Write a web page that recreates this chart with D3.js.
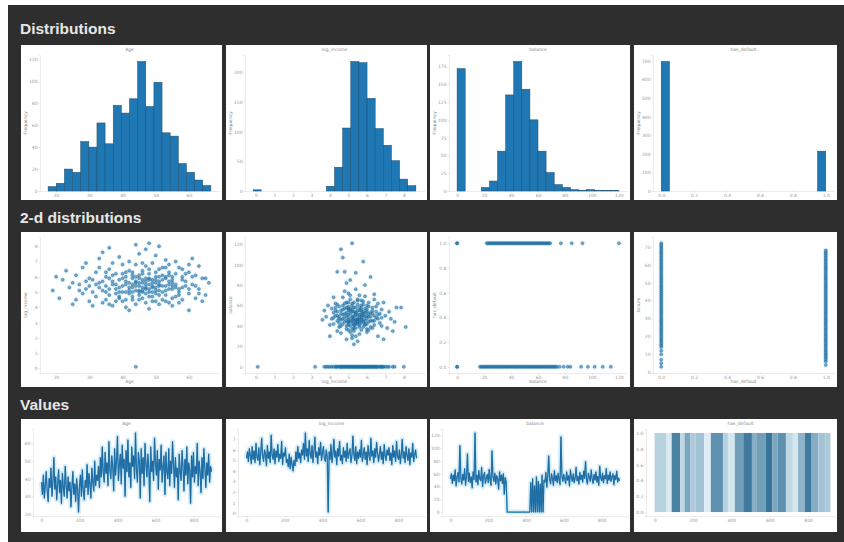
<!DOCTYPE html>
<html><head><meta charset="utf-8">
<script src="https://cdn.jsdelivr.net/npm/d3@7"></script>
<style>body{margin:0;background:#fff}svg{display:block}</style>
</head><body>
<svg id="c" width="844" height="542"></svg>
<script>
// ---------- DATA ----------
const sections = ["Distributions", "2-d distributions", "Values"];
const varNames = ["Age", "log_income", "balance", "has_default"];

// histograms: bin start, bin width, counts (20 bins)
const hist1Start = 17.6, hist1Width = 2.45;
const hist1Counts = [4,7,20,17,45,40,62,43,78,71,84,118,77,99,53,50,25,17,10,5];
const hist2Start = -0.15, hist2Width = 0.44;
const hist2Counts = [2,0,0,0,0,0,0,0,0,8,40,106,218,216,156,105,77,51,20,9];
const hist3Start = 0, hist3Width = 6;
const hist3Counts = [172,0,0,5,14,56,135,182,143,100,56,26,9,5,2,1,2,1,1,1];
const hist4Start = 0, hist4Width = 0.05;
const hist4Counts = [696,0,0,0,0,0,0,0,0,0,0,0,0,0,0,0,0,0,0,214];

const hist1Ticks = [20,30,40,50,60], hist1YTicks = [0,20,40,60,80,100,120];
const hist2Ticks = [0,1,2,3,4,5,6,7,8], hist2YTicks = [0,50,100,150,200];
const hist3Ticks = [0,20,40,60,80,100,120], hist3YTicks = [0,25,50,75,100,125,150,175];
const hist4Ticks = [0,0.2,0.4,0.6,0.8,1.0], hist4YTicks = [0,100,200,300,400,500,600,700];

// scatter 1: Age vs log_income
const scatter1 = [[19,5.1],[21,4.6],[22,5.8],[24,5.3],[25,4.2],[26,6.1],[27,5.5],[28,4.9],[28,6.6],[29,5.2],
[30,4.4],[30,5.9],[31,5.0],[32,6.3],[32,4.7],[33,5.6],[33,7.2],[34,5.1],[34,4.3],[35,6.0],
[35,5.4],[36,4.8],[36,6.5],[37,5.7],[37,4.1],[38,5.2],[38,6.2],[39,4.6],[39,5.8],[40,5.0],
[40,6.8],[40,4.4],[41,5.5],[41,6.0],[42,4.9],[42,5.3],[42,7.0],[43,5.9],[43,4.5],[43,6.3],
[44,5.1],[44,5.7],[44,4.2],[45,6.1],[45,5.4],[45,4.8],[45,7.5],[46,5.6],[46,6.4],[46,4.6],
[47,5.2],[47,5.9],[47,4.3],[47,6.7],[48,5.0],[48,5.5],[48,6.2],[48,4.7],[49,5.8],[49,5.3],
[49,6.9],[49,4.4],[50,5.6],[50,6.0],[50,4.9],[51,5.1],[51,6.5],[51,5.7],[52,4.5],[52,6.1],
[52,5.4],[53,5.9],[53,4.8],[53,7.1],[54,5.2],[54,6.3],[54,4.3],[55,5.6],[55,6.0],[56,4.7],
[56,5.3],[57,6.6],[57,5.0],[58,5.8],[58,4.5],[59,6.2],[59,5.4],[60,4.9],[60,6.8],[61,5.5],
[62,4.6],[62,6.1],[63,5.2],[64,5.9],[65,4.8],[66,5.6],[23,6.4],[26,4.5],[29,6.9],[31,4.1],
[34,7.6],[36,5.9],[38,4.4],[39,7.3],[41,4.0],[43,5.0],[44,6.8],[46,5.0],[47,7.8],[48,3.9],
[50,7.4],[51,4.2],[53,6.6],[55,4.1],[56,7.0],[58,6.5],[60,3.8],[63,6.7],[37,6.9],[42,3.8],
[45,5.9],[49,5.0],[52,5.0],[54,5.7],[40,5.9],[35,4.5],[57,4.3],[61,7.2],[44,0.1],[46,5.8],
[50,5.3],[48,5.9],[47,5.5],[43,5.5],[53,5.4],[41,5.0],[39,5.3],[55,5.2],[45,5.1],[51,5.5],
[44,8.1],[48,8.2],[51,8.0],[36,7.9],[20,6.0],[64,4.4],
[38,5.5],[39,5.0],[40,5.4],[41,5.7],[42,5.1],[43,5.3],[44,5.6],[45,5.0],[46,5.3],[47,5.7],
[48,5.2],[49,5.6],[50,5.1],[51,5.4],[52,5.8],[53,5.1],[54,5.5],[55,5.8],[56,5.5],[57,5.2],
[36,5.2],[37,5.5],[35,5.0],[34,5.7],[33,5.3],[32,5.5],[31,5.8],[30,5.4],[29,5.7],[27,5.1],
[40,6.2],[42,6.4],[44,6.0],[46,6.2],[48,6.5],[50,6.3],[52,6.6],[54,6.1],[56,6.2],[58,6.0],
[39,4.7],[41,4.5],[43,4.7],[45,4.5],[47,4.9],[49,4.7],[51,4.8],[53,4.4],[55,4.6],[57,4.8],
[44,5.4],[45,5.6],[46,5.1],[47,5.3],[48,5.8],[49,5.4],[50,5.8],[51,6.0],[43,6.1],[42,5.6],
[37,6.1],[38,4.9],[41,6.3],[53,6.0],[55,5.4],[59,5.7],[60,5.2],[61,6.0],[62,5.4],[63,4.9],
[25,5.6],[33,6.6],[36,4.2],[50,4.4],[54,6.8],[58,5.3],[65,5.9],[60,6.3],[35,6.3],[46,6.9]];
const scatter1XTicks = [20,30,40,50,60], scatter1YTicks = [0,1,2,3,4,5,6,7,8];

// scatter 2: log_income vs balance
const scatter2 = [[5.2,48],[4.6,55],[5.9,42],[5.5,61],[4.9,37],[6.3,52],[5.1,66],[4.4,45],[5.7,50],[6.0,34],
[5.3,58],[4.8,44],[6.6,47],[5.0,72],[5.6,39],[4.2,53],[6.1,63],[5.4,30],[4.7,60],[5.8,46],
[6.4,41],[5.2,54],[4.5,49],[5.9,69],[5.0,43],[6.8,56],[4.9,27],[5.5,51],[6.2,45],[4.3,62],
[5.7,36],[5.1,57],[6.0,50],[4.6,40],[5.4,76],[6.5,59],[4.8,52],[5.3,35],[5.8,64],[4.1,47],
[6.3,38],[5.0,55],[5.6,44],[4.7,68],[6.1,49],[5.2,31],[5.9,57],[4.4,54],[6.7,43],[5.5,46],
[4.9,63],[5.3,41],[6.2,53],[4.6,33],[5.7,60],[5.0,48],[6.4,50],[4.8,74],[5.4,42],[6.0,37],
[4.3,58],[5.8,52],[5.1,45],[6.6,62],[4.5,39],[5.6,55],[5.2,28],[6.1,44],[4.7,51],[5.9,80],
[5.3,47],[4.2,42],[6.3,58],[5.0,36],[5.5,65],[4.9,50],[6.8,40],[5.7,46],[4.4,61],[6.0,54],
[5.2,43],[4.8,57],[5.6,32],[6.5,48],[5.1,70],[4.6,46],[5.4,53],[6.2,39],[5.8,61],[4.3,50],
[5.0,44],[6.4,66],[5.3,38],[4.7,56],[5.9,49],[5.5,25],[6.1,59],[4.5,43],[5.2,62],[6.7,52],
[4.9,40],[5.6,48],[5.0,59],[6.3,45],[4.4,35],[5.7,55],[5.4,46],[7.0,50],[4.1,57],[6.0,42],
[7.3,47],[3.8,49],[7.1,38],[3.7,55],[7.5,44],[4.0,41],[6.9,63],[3.9,60],[7.2,54],[6.6,30],
[7.6,58],[7.85,58],[8.1,39],[6.4,71],[4.2,68],[3.6,46],[7.4,35],[6.9,27],[4.0,30],[5.3,22],
[5.3,50],[5.5,47],[5.1,52],[5.7,48],[5.4,44],[5.2,56],[5.6,51],[5.0,46],[5.8,54],[5.4,58],
[5.3,41],[5.9,45],[4.9,53],[5.5,55],[5.1,40],[5.7,43],[5.2,49],[6.0,47],[4.8,48],[5.6,58],
[5.0,51],[5.8,39],[5.4,50],[5.3,45],[6.1,52],[4.7,47],[5.5,42],[5.2,60],[5.9,53],[4.9,45],
[5.6,46],[5.1,55],[5.3,63],[5.7,57],[6.2,49],[4.6,52],[5.4,38],[5.0,57],[5.8,50],[6.3,55],
[4.5,47],[6.0,60],[5.2,37],[4.8,62],[5.9,41],[5.5,66],[6.4,45],[4.4,50],[5.1,34],[5.7,65],
[6.5,54],[4.3,55],[6.1,36],[4.7,42],[5.6,70],[6.6,51],[4.5,59],[5.0,63],[6.8,48],[4.2,48],
[5.3,54],[5.5,44],[5.2,45],[5.4,53],[5.8,44],[5.0,41],[5.6,41],[6.0,56],[4.9,58],[5.7,52],
[5.2,121],[4.6,115],[4.7,107],[5.8,103],[4.4,93],[4.8,93],[5.4,92],[5.1,85],[6.2,88],[4.9,82],
[3.2,0],[3.7,0],[3.9,0],[4.1,0],[4.3,0],[4.5,0],[4.6,0],[4.7,0],[4.8,0],[4.9,0],[5.0,0],[5.1,0],
[5.2,0],[5.3,0],[5.4,0],[5.5,0],[5.6,0],[5.7,0],[5.8,0],[5.9,0],[6.0,0],[6.1,0],[6.2,0],[6.3,0],
[6.4,0],[6.5,0],[6.6,0],[6.7,0],[6.8,0],[6.9,0],[7.0,0],[7.2,0],[7.4,0],[7.5,0],[8.0,0],[0.1,0],
[4.4,0],[5.05,0],[5.35,0],[5.65,0],[5.95,0],[6.25,0],[4.85,0],[5.45,0],
[3.8,0],[4.0,0],[4.2,0],[4.35,0],[4.55,0],[4.65,0],[4.75,0],[4.95,0],[5.15,0],[5.25,0],[5.55,0],
[5.75,0],[5.85,0],[6.05,0],[6.15,0],[6.35,0],[6.45,0],[6.55,0],[6.75,0],[6.85,0],[7.1,0]];
const scatter2XTicks = [0,1,2,3,4,5,6,7,8], scatter2YTicks = [0,20,40,60,80,100,120];

// scatter 3: balance vs has_default (rows at 1 and 0)
const scatter3Ones = [0,0,22,23,24,25,26,27,28,29,30,31,32,33,34,35,36,37,38,39,40,41,42,43,44,45,46,47,48,49,50,
51,52,53,54,55,56,57,58,59,60,61,62,63,64,65,66,67,68,69,77,85,93,120];
const scatter3Zeros = [0,0,17,18,19,20,21,22,23,24,25,26,27,28,29,30,31,32,33,34,35,36,37,38,39,40,41,42,43,44,45,
46,47,48,49,50,51,52,53,54,55,56,57,58,59,60,61,62,63,64,65,66,67,68,69,70,71,72,73,74,76,79,82,84,92,97,102,108,114];
const scatter3XTicks = [0,20,40,60,80,100,120], scatter3YTicks = [0,0.2,0.4,0.6,0.8,1.0];

// scatter 4: has_default vs tenure (columns at 0 and 1)
const scatter4AtZero = [72,71,70,69,68,67,66,65,64,63,62,61,60,59,58,57,56,55,54,53,52,51,50,49,48,47,46,45,44,43,42,41,
40,39,38,37,36,35,34,33,32,31,30,29,28,27,26,25,24,23,22,21,20,19,18,17,16,15,14,12,10,7,5,3];
const scatter4AtOne = [68,67,66,65,64,63,62,61,60,59,58,57,56,55,54,53,52,51,50,49,48,47,46,45,44,43,42,41,40,39,38,37,
36,35,34,33,32,31,30,29,28,27,26,25,24,23,22,21,20,19,18,17,16,15,14,13,12,11,10,9,8,7,6,4];
const scatter4XTicks = [0,0.2,0.4,0.6,0.8,1.0], scatter4YTicks = [0,10,20,30,40,50,60,70];
const scatter4YName = "tenure";

// value series (sampled every 5th row)
const seriesStep = 5;
const series1 = [38,31,42,29,36,44,33,27,40,35,46,30,38,52,34,41,28,37,45,32,
39,26,43,35,30,47,36,29,41,33,38,24,35,44,31,37,27,40,34,21,
36,42,30,45,33,28,39,35,48,31,43,37,29,46,38,33,50,36,42,39,
47,35,52,41,58,44,38,55,43,49,36,61,45,40,53,47,33,57,42,50,
64,39,48,54,37,59,46,51,30,56,44,62,41,49,35,58,47,53,40,66,
45,38,55,50,29,57,43,52,36,60,48,41,54,46,27,58,44,50,39,63,
49,42,56,34,51,45,59,38,47,53,31,55,44,40,57,36,50,43,61,48,
35,52,41,46,28,54,44,39,56,47,33,51,42,58,37,49,45,26,53,41,
55,38,47,43,60,36,50,44,32,52,40,57,46,35,49,42,54,38,47,44];
const series2 = [5.2,5.8,4.9,6.1,5.5,4.7,6.3,5.1,5.9,4.8,6.6,5.3,5.0,6.2,4.6,5.7,7.1,5.4,4.9,6.0,
5.6,4.5,6.4,5.2,5.8,4.8,7.4,5.5,5.1,6.1,4.7,5.9,5.3,6.5,4.9,5.6,5.2,6.8,4.6,5.7,
5.4,6.2,4.8,5.1,4.4,5.6,4.2,5.3,4.6,4.0,5.0,4.5,5.8,4.9,6.3,5.2,5.7,4.8,6.0,5.5,
6.6,5.1,7.6,5.4,6.1,4.9,6.9,5.6,5.2,6.4,4.8,5.9,7.2,5.3,5.8,4.7,6.2,5.5,6.7,5.0,
5.7,6.3,5.2,4.9,6.0,5.4,0.1,5.8,5.1,6.5,4.8,5.6,7.0,5.3,5.9,4.6,6.1,5.4,6.8,5.0,
5.5,4.7,6.2,5.3,5.9,4.9,6.6,5.2,5.7,6.1,4.8,5.4,7.3,5.6,5.0,6.3,4.7,5.8,5.2,6.0,
5.3,6.9,4.9,5.6,6.2,5.1,5.8,4.6,6.4,5.5,5.0,7.1,5.4,5.9,4.8,6.1,5.3,6.7,5.7,4.9,
5.6,6.3,5.1,5.8,4.7,6.5,5.4,5.0,6.0,5.5,
6.2,5.0,5.7,4.6,6.4,5.3,5.9,4.9,6.8,5.4,5.1,6.0,4.7,5.6,7.0,5.2,5.8,4.8,6.3,5.5,5.0,6.1,4.6,5.7,5.3,6.6,4.9,5.5,6.0,5.2];
const series3 = [52,60,45,58,49,66,41,55,62,47,104,53,44,59,50,68,42,57,91,48,
61,46,55,38,63,51,124,47,58,43,65,52,49,70,40,56,62,45,53,59,
46,67,50,42,96,55,48,61,44,57,52,36,63,49,58,45,60,28,54,47,
0,0,0,0,0,0,0,0,0,0,0,0,0,0,0,0,0,0,0,0,0,0,0,0,
0,46,0,52,0,41,0,55,0,48,0,44,0,58,0,50,
47,62,39,56,88,51,44,60,53,42,65,49,57,46,61,50,43,118,55,48,
59,52,45,63,50,57,41,66,54,48,60,46,53,70,49,56,44,62,51,58,
47,64,53,79,50,44,61,55,48,66,52,45,59,50,63,47,56,42,72,54,
49,61,46,57,52,68,45,58,50,63,48,55,60,43,57,51,64,47,53,49];
// series 4 (binary): row ranges with share of ones
const series4Runs = [[0,62,0.25],[62,89,0.08],[89,133,0.8],[133,156,0.2],[156,187,0.55],[187,213,0.3],
[213,258,0.35],[258,293,0.05],[293,356,0.7],[356,382,0.25],[382,418,0.1],[418,462,0.6],[462,507,0.85],
[507,533,0.5],[533,578,0.6],[578,613,0.9],[613,640,0.55],[640,684,0.7],[684,720,0.2],[720,747,0.1],
[747,782,0.45],[782,818,0.85],[818,853,0.5],[853,889,0.35],[889,916,0.3]];
const seriesXTicks = [0,200,400,600,800];
const series1YTicks = [20,30,40,50,60], series2YTicks = [0,1,2,3,4,5,6,7];
const series3YTicks = [0,20,40,60,80,100,120], series4YTicks = [0,0.2,0.4,0.6,0.8,1.0];

// ---------- LAYOUT ----------
const BLUE = "#1f77b4";
const cols = [{x:21,w:201},{x:226,w:201},{x:430,w:200},{x:634,w:203}];
const rows = [{y:45,h:155},{y:232,h:155},{y:419,h:113}];
const headerY = [34, 223, 410];

const svg = d3.select("#c");
svg.append("rect").attr("x",8).attr("y",5).attr("width",836).attr("height",537).attr("fill","#2e2e2e");
sections.forEach((s,i)=>{
  svg.append("text").attr("x",20).attr("y",headerY[i]).text(s)
    .attr("font-family","Liberation Sans, Arial, sans-serif").attr("font-weight","bold")
    .attr("font-size","15.5px").attr("fill","#e6e6e6");
});
rows.forEach(r=>cols.forEach(c=>{
  svg.append("rect").attr("x",c.x).attr("y",r.y).attr("width",c.w).attr("height",r.h).attr("fill","#fff");
}));

function styleAxis(g){
  g.attr("font-size",4.5).attr("font-family","DejaVu Sans, sans-serif");
  g.selectAll("text").attr("fill","#9a9a9a");
  g.selectAll(".tick line").attr("stroke","#cfcfcf").attr("stroke-width",0.5);
  g.select(".domain").attr("stroke","#d9d9d9").attr("stroke-width",0.5);
}
function fmt(ticks){ return ticks.some(t=>!Number.isInteger(t)) ? d3.format(".1f") : d3.format("d"); }
function padDomain(lo,hi){ const p=(hi-lo)*0.05; return [lo-p,hi+p]; }

function axes(g, x, y, B, L, xt, yt){
  const gx = g.append("g").attr("transform",`translate(0,${B})`)
    .call(d3.axisBottom(x).tickValues(xt).tickSize(1.5).tickPadding(1).tickFormat(fmt(xt)));
  styleAxis(gx);
  const gy = g.append("g").attr("transform",`translate(${L},0)`)
    .call(d3.axisLeft(y).tickValues(yt).tickSize(1.5).tickPadding(1).tickFormat(fmt(yt)));
  styleAxis(gy);
}
function smallText(x,y,t,rot){
  const el = svg.append("text").attr("x",x).attr("y",y).text(t)
    .attr("font-size",4.5).attr("font-family","DejaVu Sans, sans-serif").attr("fill","#8a8a8a")
    .attr("text-anchor","middle");
  if(rot) el.attr("transform",`rotate(-90,${x},${y})`);
}

// ---------- ROW 1: HISTOGRAMS ----------
const hists = [
  {start:hist1Start,width:hist1Width,counts:hist1Counts,xt:hist1Ticks,yt:hist1YTicks},
  {start:hist2Start,width:hist2Width,counts:hist2Counts,xt:hist2Ticks,yt:hist2YTicks},
  {start:hist3Start,width:hist3Width,counts:hist3Counts,xt:hist3Ticks,yt:hist3YTicks},
  {start:hist4Start,width:hist4Width,counts:hist4Counts,xt:hist4Ticks,yt:hist4YTicks}];
const histX = [];
hists.forEach((h,i)=>{
  const c = cols[i], r = rows[0];
  const L = c.x+19, R = c.x+c.w-3, T = r.y+10, B = r.y+146;
  const end = h.start + h.width*h.counts.length;
  const x = d3.scaleLinear().domain(padDomain(h.start,end)).range([L,R]);
  histX.push(x.domain());
  const y = d3.scaleLinear().domain([0,d3.max(h.counts)*1.05]).range([B,T]);
  const g = svg.append("g");
  axes(g,x,y,B,L,h.xt,h.yt);
  const bins = h.counts.map((v,k)=>({x0:h.start+k*h.width,x1:h.start+(k+1)*h.width,v})).filter(d=>d.v>0);
  g.selectAll("rect.bar").data(bins).join("rect").attr("class","bar")
    .attr("x",d=>x(d.x0)).attr("width",d=>x(d.x1)-x(d.x0))
    .attr("y",d=>y(d.v)).attr("height",d=>y(0)-y(d.v))
    .attr("fill",BLUE).attr("stroke","#1d4d68").attr("stroke-width",0.5);
  smallText((L+R)/2, r.y+6, varNames[i]);
  smallText(c.x+6, (T+B)/2, "Frequency", true);
});

// ---------- ROW 2: SCATTERS ----------
function drawPoints(g, pts, x, y){
  g.selectAll(null).data(pts).join("circle").attr("cx",d=>x(d[0])).attr("cy",d=>y(d[1]))
    .attr("r",2.8).attr("fill","#a9daf0").attr("fill-opacity",0.22);
  g.selectAll(null).data(pts).join("circle").attr("cx",d=>x(d[0])).attr("cy",d=>y(d[1]))
    .attr("r",1.5).attr("fill",BLUE).attr("fill-opacity",0.6)
    .attr("stroke","#1b5f8c").attr("stroke-width",0.4);
}
const scatters = [
  {pts:scatter1, xi:0, yname:varNames[1], xt:scatter1XTicks, yt:scatter1YTicks},
  {pts:scatter2, xi:1, yname:varNames[2], xt:scatter2XTicks, yt:scatter2YTicks},
  {pts:scatter3Ones.map(v=>[v,1]).concat(scatter3Zeros.map(v=>[v,0])), xi:2, yname:varNames[3], xt:scatter3XTicks, yt:scatter3YTicks},
  {pts:scatter4AtZero.map(v=>[0,v]).concat(scatter4AtOne.map(v=>[1,v])), xi:3, yname:scatter4YName, xt:scatter4XTicks, yt:scatter4YTicks}];
scatters.forEach((s,i)=>{
  const c = cols[i], r = rows[1];
  const L = c.x+19, R = c.x+c.w-3, T = r.y+5, B = r.y+141;
  const x = d3.scaleLinear().domain(histX[s.xi]).range([L,R]);
  const ext = d3.extent(s.pts, d=>d[1]);
  const y = d3.scaleLinear().domain(padDomain(ext[0],ext[1])).range([B,T]);
  const g = svg.append("g");
  axes(g,x,y,B,L,s.xt,s.yt);
  drawPoints(g,s.pts,x,y);
  smallText((L+R)/2, r.y+151, varNames[s.xi]);
  smallText(c.x+6, (T+B)/2, s.yname, true);
});

// ---------- ROW 3: VALUES ----------
const lineSeries = [
  {vals:series1, yt:series1YTicks},
  {vals:series2, yt:series2YTicks},
  {vals:series3, yt:series3YTicks}];
function valuesFrame(i, yDom, yt){
  const c = cols[i], r = rows[2];
  const L = c.x+12, R = c.x+c.w-2, T = r.y+10, B = r.y+97;
  const x = d3.scaleLinear().domain(padDomain(0,(series1.length-1)*seriesStep)).range([L,R]);
  const y = d3.scaleLinear().domain(yDom).range([B,T]);
  const g = svg.append("g");
  axes(g,x,y,B,L,seriesXTicks,yt);
  smallText((L+R)/2, r.y+6, varNames[i]);
  return {g,x,y};
}
lineSeries.forEach((s,i)=>{
  const ext = d3.extent(s.vals);
  const {g,x,y} = valuesFrame(i, padDomain(ext[0],ext[1]), s.yt);
  const line = d3.line().x((d,k)=>x(k*seriesStep)).y(d=>y(d));
  g.append("path").datum(s.vals).attr("d",line).attr("fill","none")
    .attr("stroke","#a3d8ef").attr("stroke-width",5).attr("stroke-opacity",0.45).attr("stroke-linejoin","round");
  g.append("path").datum(s.vals).attr("d",line).attr("fill","none")
    .attr("stroke","#2a83bf").attr("stroke-width",1.3).attr("stroke-linejoin","round");
  g.append("path").datum(s.vals).attr("d",line).attr("fill","none")
    .attr("stroke","#15527d").attr("stroke-width",0.4);
});
{
  const {g,x,y} = valuesFrame(3, padDomain(0,1), series4YTicks);
  const shade = d3.interpolateRgb("#e8f4f9","#22668f");
  g.selectAll("rect.run").data(series4Runs).join("rect").attr("class","run")
    .attr("x",d=>x(d[0])).attr("width",d=>x(d[1])-x(d[0]))
    .attr("y",y(1)).attr("height",y(0)-y(1)).attr("fill",d=>shade(d[2]));
}
</script>
</body></html>
